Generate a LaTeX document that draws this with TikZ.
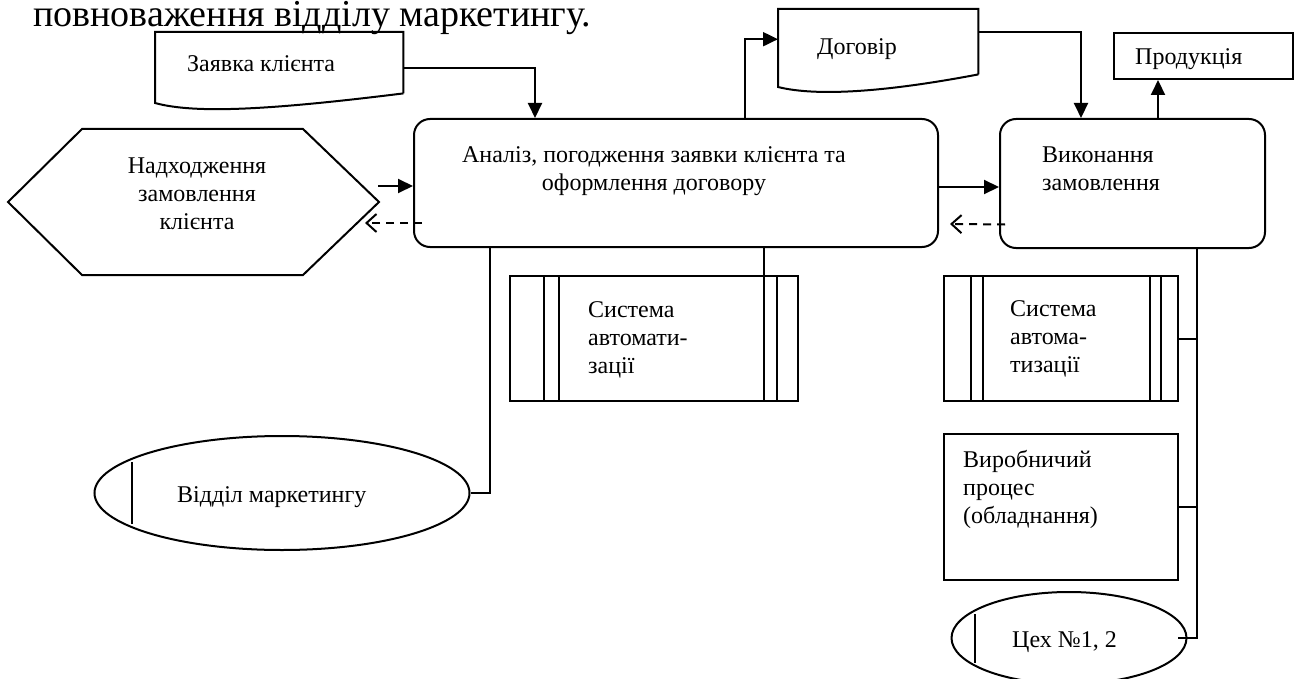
\documentclass[tikz,border=0pt]{standalone}
\usepackage{fontspec}
\setmainfont{Liberation Serif}
\usetikzlibrary{arrows.meta,shapes.geometric}

\tikzset{
  line/.style={line width=2pt},
  arr/.style={line, -{Triangle[length=15pt,width=14pt]}},
  back/.style={line, dash pattern=on 8pt off 6pt, -{Straight Barb[length=10pt,width=18pt]}},
  procbox/.style={draw, line width=2pt, rounded corners=16pt, anchor=north west, inner sep=0pt},
  plainbox/.style={draw, line width=2pt, anchor=north west, inner sep=0pt},
  hidden/.style={anchor=north west, inner sep=0pt},
  txt/.style={anchor=base west, align=left, inner sep=0pt, font=\rmfamily\fontsize{24}{27.8}\selectfont},
}

\begin{document}
\begin{tikzpicture}[x=1pt,y=-1pt]
  \useasboundingbox (0,0) rectangle (1297,679);
  \node[anchor=base west, inner sep=0pt, font=\rmfamily\fontsize{38}{45}\selectfont] (title) at (33,27) {повноваження відділу маркетингу.};

  % main processes
  \node[procbox, minimum width=524, minimum height=128] (analiz) at (413,118) {};
  \node[txt, align=center, anchor=base] (analiz-t) at (654,190) {Аналіз, погодження заявки клієнта та\\оформлення договору};
  \node[procbox, minimum width=265, minimum height=129] (vykon) at (999,118) {};
  \node[txt] (vykon-t) at (1042,190) {Виконання\\замовлення};

  % documents
  \node[hidden, minimum width=248, minimum height=61] (zayavka) at (155,32) {};
  \draw[line] (zayavka.south east) -- (zayavka.north east) -- (zayavka.north west) -- (155,103)
    .. controls (195,114) and (270,110) .. (zayavka.south east);
  \node[txt] (zayavka-t) at (187,72) {Заявка клієнта};
  \node[hidden, minimum width=200, minimum height=65] (dogovir) at (778,9) {};
  \draw[line] (dogovir.south east) -- (dogovir.north east) -- (dogovir.north west) -- (778,87)
    .. controls (810,95) and (870,95) .. (dogovir.south east);
  \node[txt] (dogovir-t) at (817,55) {Договір};
  \node[plainbox, minimum width=179, minimum height=46] (produkt) at (1113,32) {};
  \node[txt] (produkt-t) at (1135,65) {Продукція};

  % event
  \draw[line] (8,202) -- (82,129) -- (303,129) -- (379,202) -- (303,275) -- (82,275) -- cycle;
  \node[txt, align=center, anchor=base] (nadkh) at (197,229) {Надходження\\замовлення\\клієнта};
  \coordinate (nadkh-in) at (378,186);
  \coordinate (nadkh-fb) at (365,223);

  % automation systems
  \node[plainbox, minimum width=288, minimum height=125] (sysL) at (509,275) {};
  \foreach \s in {35,50} \draw[line] ([xshift=\s pt]sysL.north west) -- ([xshift=\s pt]sysL.south west);
  \foreach \s in {35,22} \draw[line] ([xshift=-\s pt]sysL.north east) -- ([xshift=-\s pt]sysL.south east);
  \node[txt] (sysL-t) at (588,373) {Система\\автомати-\\зації};
  \node[plainbox, minimum width=234, minimum height=125] (sysR) at (943,275) {};
  \foreach \s in {28,40} \draw[line] ([xshift=\s pt]sysR.north west) -- ([xshift=\s pt]sysR.south west);
  \foreach \s in {29,18} \draw[line] ([xshift=-\s pt]sysR.north east) -- ([xshift=-\s pt]sysR.south east);
  \node[txt] (sysR-t) at (1010,372) {Система\\автома-\\тизації};

  % equipment
  \node[plainbox, minimum width=234, minimum height=146] (vyrob) at (943,433) {};
  \node[txt] (vyrob-t) at (963,523) {Виробничий\\процес\\(обладнання)};

  % departments
  \node[ellipse, draw, line width=2pt, inner sep=0pt, minimum width=375, minimum height=114] (viddil) at (282,493) {};
  \draw[line] (132,462) -- (132,524);
  \node[txt] (viddil-t) at (177,502) {Відділ маркетингу};
  \node[ellipse, draw, line width=2pt, inner sep=0pt, minimum width=235, minimum height=92] (tsekh) at (1069,638) {};
  \draw[line] (975,614) -- (975,663);
  \node[txt] (tsekh-t) at (1012,647) {Цех №1, 2};

  % flows
  \draw[arr] ([yshift=-5pt]zayavka.east) -| ([xshift=122pt]analiz.north west);
  \draw[arr] ([xshift=332pt]analiz.north west) |- ([yshift=2.5pt]dogovir.west);
  \draw[arr] ([yshift=9.5pt]dogovir.east) -| ([xshift=82pt]vykon.north west);
  \draw[arr] ([xshift=159pt]vykon.north west) -- ([xshift=159pt]vykon.north west |- produkt.south);
  \draw[arr] (nadkh-in) -- (nadkh-in -| analiz.west);
  \draw[back] ([xshift=9pt]analiz.west |- nadkh-fb) -- (nadkh-fb);
  \draw[arr] ([yshift=-4pt]analiz.east) -- ([yshift=-4pt]analiz.east -| vykon.west);
  \draw[back] ([xshift=6pt,yshift=-41pt]vykon.west) -- ([xshift=11pt,yshift=-41pt]analiz.east);

  % resources
  \draw[line] ([xshift=255pt]sysL.north west) -- ([xshift=255pt]sysL.north west |- analiz.south);
  \draw[line] (viddil.east) -| ([xshift=77pt]analiz.south west);
  \draw[line] ([xshift=198pt]vykon.south west) |- ([xshift=-10pt]tsekh.east);
  \draw[line] (sysR.east) -- (sysR.east -| 1197,0);
  \draw[line] (vyrob.east) -- (vyrob.east -| 1197,0);
\end{tikzpicture}
\end{document}
